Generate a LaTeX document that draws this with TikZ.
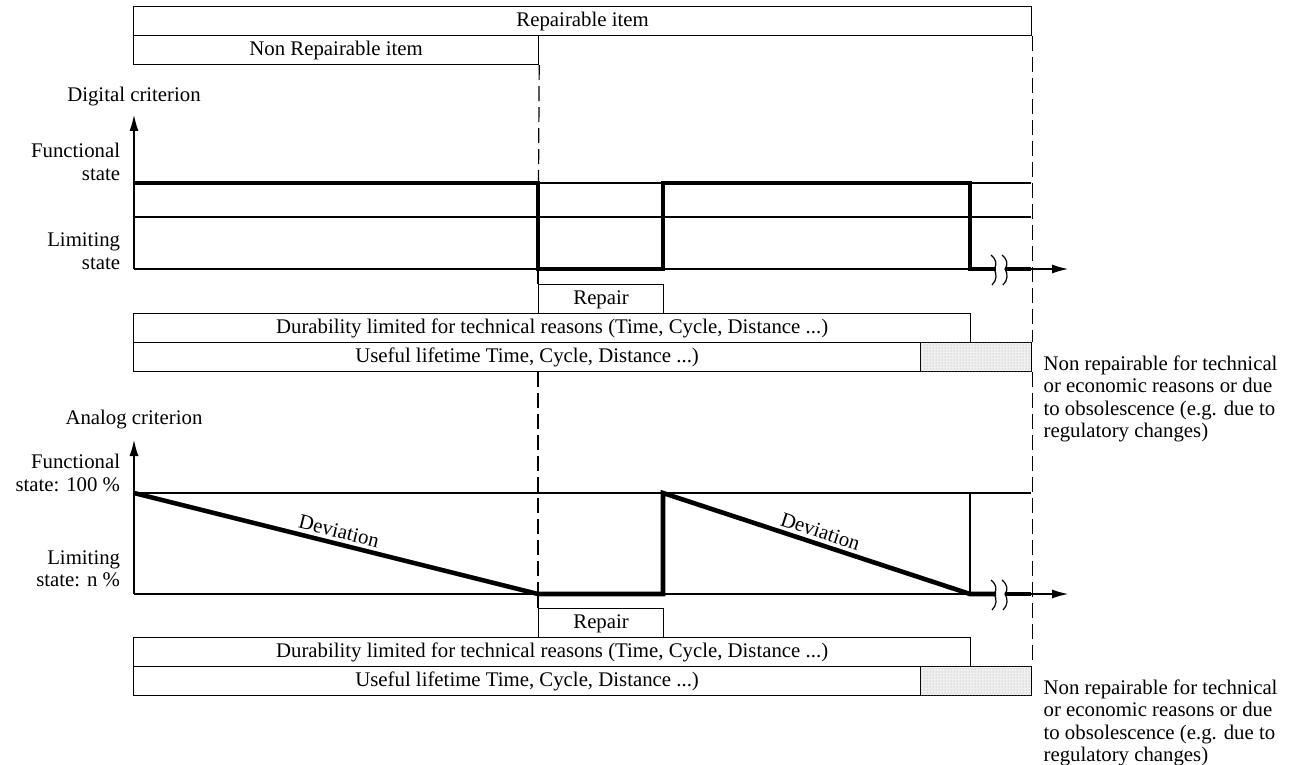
\documentclass[tikz,border=0pt]{standalone}
\usepackage{fontspec}
\setmainfont{Liberation Serif}
\usetikzlibrary{arrows.meta,patterns}

\tikzset{
  strip/.style={draw,line width=1.2pt,anchor=north west,minimum height=29pt,
    inner sep=0pt,text height=14pt,text depth=4pt},
  obsolete/.style={strip,fill=black!6,postaction={pattern=dots,pattern color=black!35}},
  heavy/.style={line width=4.6pt},
  guide/.style={line width=1.2pt,dash pattern=on 15pt off 6pt},
  taxis/.style={line width=1.2pt,-{Latex[length=16pt,width=9pt]}},
  statelbl/.style={align=right,anchor=east},
  remark/.style={align=left,anchor=north west,inner sep=0pt}
}

\begin{document}
\begin{tikzpicture}[x=1pt,y=-1pt,line width=1.2pt,font=\fontsize{20.8}{22.5}\selectfont]
\useasboundingbox (0,0) rectangle (1294,765);
% item type
\node[strip,minimum width=898pt] (rep) at (133,6) {Repairable item};
\node[strip,minimum width=405pt] (nonrep) at (133,35) {Non Repairable item};

% digital criterion
\node (dig) at (134,97) {Digital criterion};
\coordinate (d0) at (134,269);
\draw[taxis] (d0) -- (134,115);
\node[statelbl] (dfun) at (124,162) {Functional\\state};
\node[statelbl] (dlim) at (124,251) {Limiting\\state};
\draw (134,183) -- (1031,183);
\draw (134,217) -- (1031,217);
\draw (d0) -- (996,269);
\draw[taxis] (1005,269) -- (1068,269);
\node[strip,minimum width=125pt] (drep) at (538,284) {Repair};
\node[strip,minimum width=837pt] (ddur) at (133,313) {Durability limited for technical reasons (Time, Cycle, Distance ...)};
\node[strip,minimum width=787pt] (duse) at (133,342) {Useful lifetime Time, Cycle, Distance ...)};
\node[obsolete,minimum width=111pt] (dobs) at (920,342) {};
\node[remark] (dnote) at (1043,355) {Non repairable for technical\\or economic reasons or due\\to obsolescence (e.g. due to\\regulatory changes)};
\draw[guide] (nonrep.south east) -- (538,269);
\draw (538,269) -- (drep.north west);
\draw[guide] (rep.south east) -- (dobs.north east);
\draw[heavy] (134,183) -- (538,183) -- (538,269) -- (663,269) -- (663,183) -- (970,183) -- (970,269) -- (996,269);
\draw[heavy] (1005,269) -- (1031,269);
\foreach \bx in {994,1005}
  \draw ({\bx-3},255) .. controls ({\bx+3},260) and ({\bx+3},265) .. (\bx,269) .. controls ({\bx+3},274) and ({\bx+3},280) .. ({\bx-2},285);

% analog criterion
\node (ana) at (134,420) {Analog criterion};
\coordinate (a0) at (134,594);
\draw[taxis] (a0) -- (134,440);
\node[statelbl] (afun) at (124,473) {Functional\\state: 100 \%};
\node[statelbl] (alim) at (124,569) {Limiting\\state: n \%};
\draw (134,493) -- (1031,493);
\draw (970,493) -- (970,594);
\draw (a0) -- (996,594);
\draw[taxis] (1005,594) -- (1068,594);
\node[strip,minimum width=125pt] (arep) at (538,608) {Repair};
\node[strip,minimum width=837pt] (adur) at (133,637) {Durability limited for technical reasons (Time, Cycle, Distance ...)};
\node[strip,minimum width=787pt] (ause) at (133,666) {Useful lifetime Time, Cycle, Distance ...)};
\node[obsolete,minimum width=111pt] (aobs) at (920,666) {};
\node[remark] (anote) at (1043,679) {Non repairable for technical\\or economic reasons or due\\to obsolescence (e.g. due to\\regulatory changes)};
\draw[guide] (duse.south west -| 538,0) -- (538,594);
\draw (538,594) -- (arep.north west);
\draw[guide] (dobs.south east) -- (aobs.north east);
\draw[heavy] (134,493) -- node[above,sloped] (dev1) {Deviation} (538,594) -- (663,594) -- (663,493)
  -- node[above,sloped] (dev2) {Deviation} (970,594) -- (996,594);
\draw[heavy] (1005,594) -- (1031,594);
\foreach \bx in {994,1005}
  \draw ({\bx-3},580) .. controls ({\bx+3},585) and ({\bx+3},590) .. (\bx,594) .. controls ({\bx+3},599) and ({\bx+3},605) .. ({\bx-2},610);
\end{tikzpicture}
\end{document}
